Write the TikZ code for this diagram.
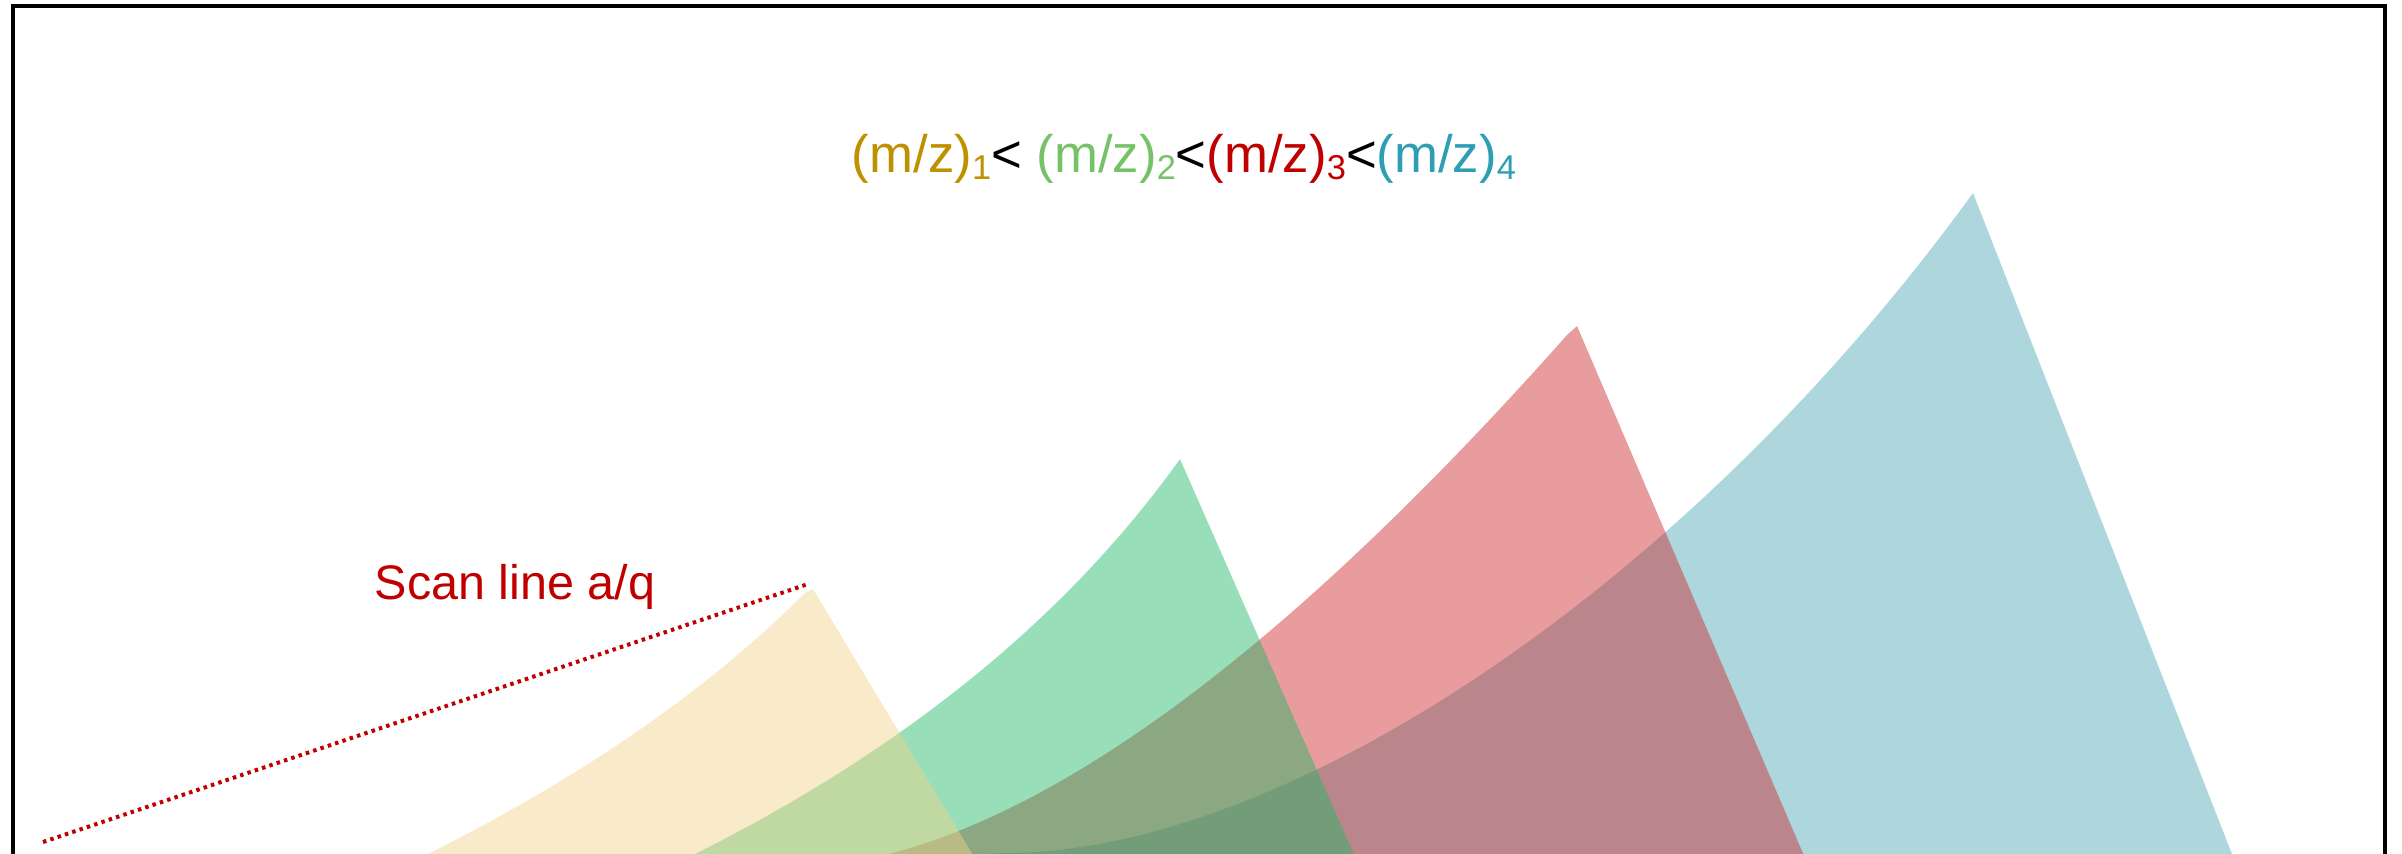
\documentclass[tikz,border=0pt]{standalone}
\usepackage{fontspec}
\setmainfont{Liberation Sans}
\usetikzlibrary{positioning}
\definecolor{mzgold}{RGB}{191,144,0}
\definecolor{mzgreen}{RGB}{118,194,104}
\definecolor{mzred}{RGB}{192,0,0}
\definecolor{mzteal}{RGB}{46,158,178}
\definecolor{zoneyellow}{RGB}{242,211,135}
\definecolor{zonegreen}{RGB}{27,184,100}
\definecolor{zonered}{RGB}{204,36,40}
\definecolor{zoneblue}{RGB}{75,166,179}
\newcommand{\mzsub}[1]{\raisebox{-0.14em}{\fontsize{9.8pt}{12pt}\selectfont #1}}
\tikzset{
  zone/.style={fill opacity=0.45, draw=none},
  scanline/.style={draw=mzred, line width=0.04cm, dash pattern=on 0.035cm off 0.042cm},
  frame/.style={draw=black, line width=0.035cm},
  titletext/.style={inner sep=0pt, font=\fontsize{15pt}{18pt}\selectfont},
  scantext/.style={inner sep=0pt, text=mzred, font=\fontsize{13.8pt}{16pt}\selectfont}
}

\begin{document}
\begin{tikzpicture}[x=0.01cm, y=-0.01cm]
  \useasboundingbox (0,0) rectangle (2402,853);
  \clip (0,0) rectangle (2402,853);
  % peaks of the stability zones
  \coordinate (ypeak) at (813,589);
  \coordinate (gpeak) at (1180,459);
  \coordinate (rpeak) at (1577,326);
  \coordinate (bpeak) at (1973,193);
  % stability zones, largest m/z first
  \fill[zone, fill=zoneblue] (800,871) -- (1000,853) .. controls (1280,856) and (1685,590) .. (bpeak) -- (2250,900) -- (800,900) -- cycle;
  \fill[zone, fill=zonered] (720,900) -- (893,853) .. controls (1082,802) and (1306,629) .. (1567,335) -- (rpeak) -- (1823,900) -- cycle;
  \fill[zone, fill=zonegreen] (603,900) -- (697,853) .. controls (906,748) and (1067,617) .. (gpeak) -- (1374,900) -- cycle;
  \fill[zone, fill=zoneyellow] (345,900) -- (430,853) .. controls (583,776) and (708,690) .. (805,593) -- (ypeak) -- (1000,900) -- cycle;
  % scan line
  \coordinate (scanstart) at (43,842);
  \coordinate (scanend) at (808,584);
  \draw[scanline] (scanstart) -- (scanend);
  \node[scantext, anchor=base west] (scanlabel) at (374,599) {Scan line a/q};
  % m/z order
  \node[titletext, anchor=base] (mzorder) at (1184,172) {\color{mzgold}(m/z)\mzsub{1}\color{black}< \color{mzgreen}(m/z)\mzsub{2}\color{black}<\color{mzred}(m/z)\mzsub{3}\color{black}<\color{mzteal}(m/z)\mzsub{4}};
  \draw[frame] (13,6) rectangle (2385,950);
\end{tikzpicture}
\end{document}
